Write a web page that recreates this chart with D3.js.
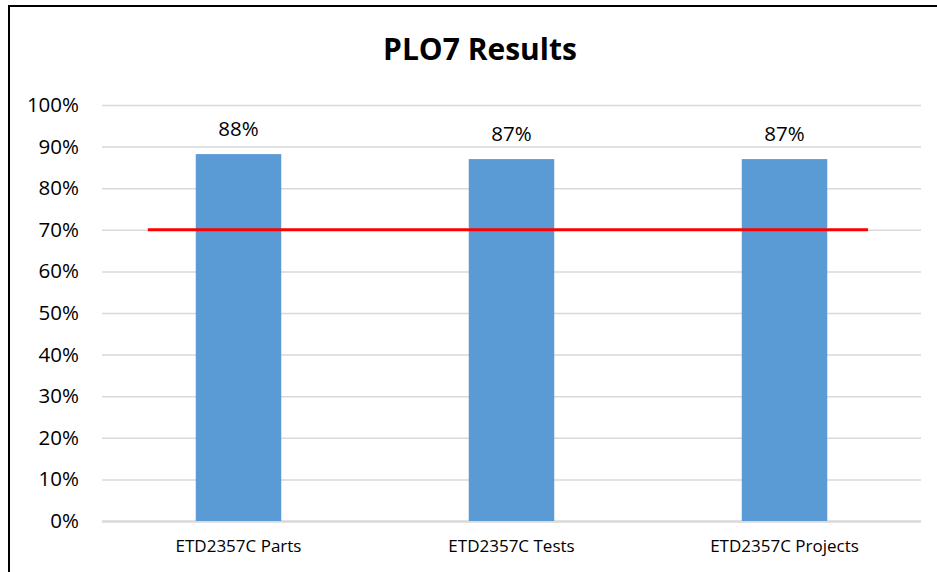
<!DOCTYPE html>
<html>
<head>
<meta charset="utf-8">
<script src="https://cdn.jsdelivr.net/npm/d3@7"></script>
<style>
    body { margin: 0; background: #fff; }
    svg { display: block; font-family: 'Open Sans', 'Noto Sans', sans-serif; }
</style>
</head>
<body>
<div id="chart"></div>
<script>
//Datos
const categories = ['ETD2357C Parts', 'ETD2357C Tests', 'ETD2357C Projects'];
const values = [0.882, 0.870, 0.870];
const labels = ['88%', '87%', '87%'];
const yTicks = [0, 0.1, 0.2, 0.3, 0.4, 0.5, 0.6, 0.7, 0.8, 0.9, 1];
const targetValue = 0.70;
//Extremos de la línea objetivo, en unidades de categoría
const targetSpan = [0.168, 2.806];

const COLOR_BAR = '#5B9BD5';
const COLOR_TARGET = '#FF0000';
const COLOR_GRID = '#D9D9D9';

let W = 937, H = 572;
let margin = {top: 105, right: 16, bottom: 51, left: 102},
    width = W - margin.left - margin.right,
    height = H - margin.top - margin.bottom;

let svg = d3.select('#chart')
    .append('svg')
        .attr('width', W)
        .attr('height', H);

//Marco del gráfico
svg.append('rect')
    .attr('x', 9)
    .attr('y', 6)
    .attr('width', W + 20)
    .attr('height', H + 20)
    .attr('fill', 'none')
    .attr('stroke', '#000')
    .attr('stroke-width', 2);

svg.append('text')
    .attr('x', 480)
    .attr('y', 60)
    .attr('text-anchor', 'middle')
    .attr('font-weight', 'bold')
    .attr('font-size', 30)
    .attr('fill', '#000')
    .text('PLO7 Results');

let g = svg.append('g')
    .attr('transform', 'translate(' + margin.left + ',' + margin.top + ')');

let y = d3.scaleLinear()
    .domain([0, 1])
    .range([height, 0]);

let x = d3.scaleBand()
    .domain(categories)
    .range([0, width])
    .paddingInner(0.6868)
    .paddingOuter(0.3434);

let xc = d3.scaleLinear()
    .domain([0, categories.length])
    .range([0, width]);

//Eje Y con rejilla
let yAxis = function(sel) {
    sel.call(d3.axisLeft(y).tickValues(yTicks).tickFormat(d3.format('.0%')).tickSize(0).tickPadding(23));
    sel.call(function(g){ g.selectAll('.domain').remove(); });
    sel.selectAll('.tick text')
        .attr('font-size', 20.5)
        .attr('fill', '#000')
        .attr('font-family', "'Open Sans', sans-serif");
    sel.selectAll('.tick')
        .append('line')
        .attr('x1', 0)
        .attr('x2', width)
        .attr('stroke', COLOR_GRID)
        .attr('stroke-width', function(d) { return d == 0 ? 2.5 : 1.5; });
};

g.append('g').call(yAxis);

//Eje X
let xAxis = function(sel) {
    sel.call(d3.axisBottom(x).tickSize(0).tickPadding(19));
    sel.call(function(g){ g.selectAll('.domain').remove(); });
    sel.selectAll('.tick text')
        .attr('font-size', 17)
        .attr('fill', '#000')
        .attr('font-family', "'Open Sans', sans-serif");
};

g.append('g')
    .attr('transform', 'translate(0,' + height + ')')
    .call(xAxis);

//Barras
g.selectAll('.bar')
    .data(values)
    .enter()
    .append('rect')
    .attr('class', 'bar')
    .attr('x', function(d, i) { return x(categories[i]); })
    .attr('y', function(d) { return y(d); })
    .attr('width', x.bandwidth())
    .attr('height', function(d) { return y(0) - y(d); })
    .attr('fill', COLOR_BAR);

//Etiquetas
g.selectAll('.label')
    .data(values)
    .enter()
    .append('text')
    .attr('class', 'label')
    .attr('x', function(d, i) { return x(categories[i]) + x.bandwidth() / 2; })
    .attr('y', function(d) { return y(d) - 18; })
    .attr('text-anchor', 'middle')
    .attr('font-size', 20.5)
    .attr('fill', '#000')
    .text(function(d, i) { return labels[i]; });

//Línea objetivo
g.append('line')
    .attr('x1', xc(targetSpan[0]))
    .attr('x2', xc(targetSpan[1]))
    .attr('y1', y(targetValue))
    .attr('y2', y(targetValue))
    .attr('stroke', COLOR_TARGET)
    .attr('stroke-width', 3);
</script>
</body>
</html>
